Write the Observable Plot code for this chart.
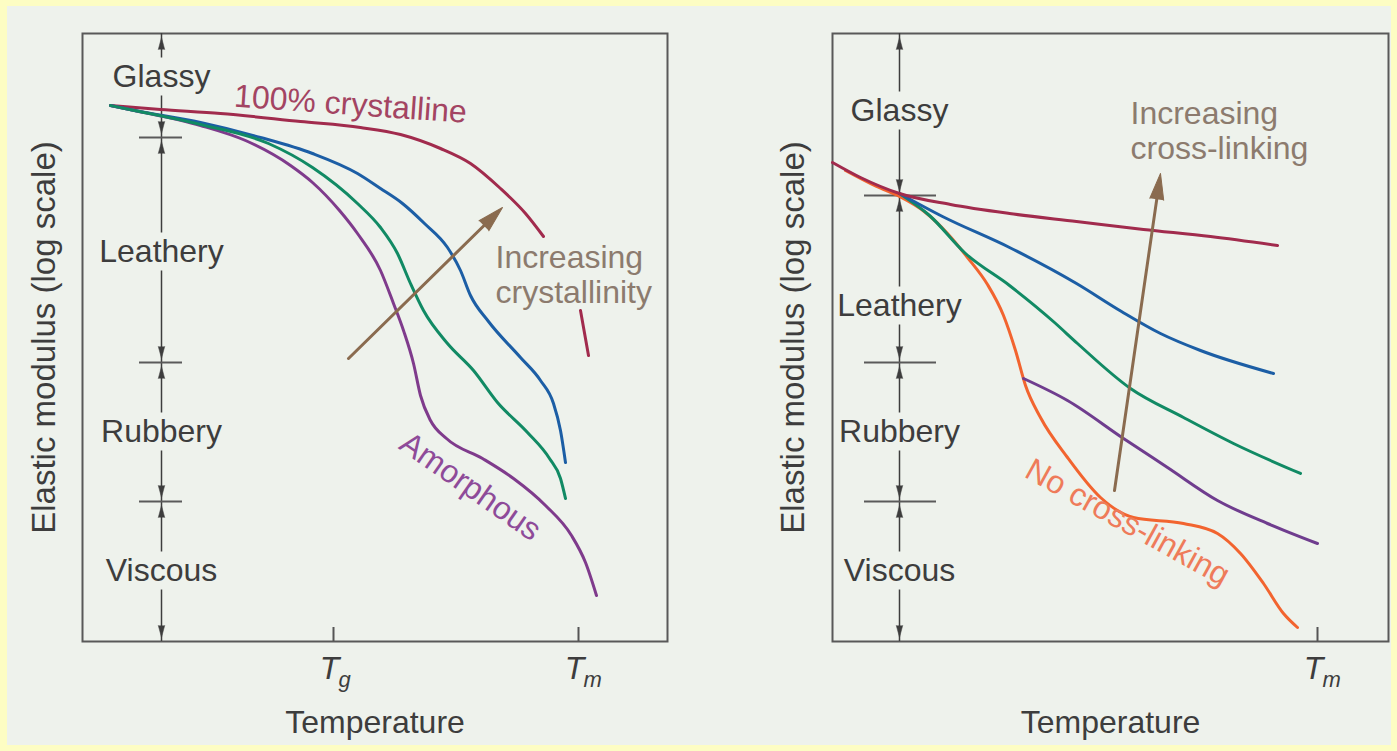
<!DOCTYPE html>
<html><head><meta charset="utf-8">
<script src="https://cdn.jsdelivr.net/npm/d3@7"></script>
<script src="https://cdn.jsdelivr.net/npm/@observablehq/plot@0.6"></script>
<style>
html,body{margin:0;padding:0;}
body{width:1397px;height:751px;overflow:hidden;}
#page{position:relative;width:1397px;height:751px;background:#fdfdc3;}
#inner{position:absolute;left:7px;top:6px;right:6px;bottom:6px;background:#eef2ec;}
#left,#right{position:absolute;top:0;}
#left{left:0;} #right{left:700px;}
</style></head><body>
<div id="page"><div id="inner"></div><div id="left"></div><div id="right"></div></div>
<script>
// ---------- data (temperature, log modulus in arbitrary units) ----------
const regionNames = ["Glassy", "Leathery", "Rubbery", "Viscous"];
// left panel
const leftLabelY = [56.45, 38.95, 20.95, 7.05];
const leftBounds = [60.8, 50.4, 27.9, 14.0, 0];
const leftTicks = [{name: "g", x: 25.1}, {name: "m", x: 49.6}];
const crystalline100 = [[2.8,53.6],[7.8,53.2],[13.8,52.8],[21.8,52.0],[27.8,51.4],[31.8,50.7],[35.8,49.3],[38.8,47.8],[41.8,45.3],[44.3,42.8],[46.1,40.5],[47.9,NaN],[49.8,33.1],[50.6,28.6]];
const crystalHigh = [[2.8,53.6],[5.2,53.1],[11.8,51.9],[17.8,50.4],[23.0,48.8],[27.5,46.8],[29.8,45.3],[32.0,43.8],[34.2,41.8],[36.5,39.4],[37.8,37.1],[38.8,34.6],[40.6,32.0],[43.8,28.4],[45.8,26.1],[47.1,23.8],[47.8,21.1],[48.3,17.9]];
const crystalMid = [[2.8,53.6],[5.2,53.1],[11.8,51.7],[18.6,49.8],[23.0,47.4],[27.5,43.8],[29.8,41.4],[31.5,38.8],[32.8,35.8],[34.1,33.1],[36.5,29.8],[39.1,27.1],[41.5,23.9],[44.5,20.9],[46.7,18.3],[47.8,16.3],[48.3,14.3]];
const amorphous = [[2.8,53.6],[5.2,53.1],[11.8,51.6],[16.3,50.1],[20.8,47.6],[23.0,45.9],[25.7,43.1],[27.5,40.8],[29.8,37.1],[31.1,33.8],[32.1,31.1],[33.1,27.8],[33.8,24.6],[34.8,22.1],[36.4,20.3],[40.0,18.3],[43.1,16.3],[46.3,13.6],[48.9,10.6],[50.3,7.9],[51.4,4.6]];
const crystArrow = [[26.6,28.3],[42.0,43.4]];
// right panel
const rightLabelY = [53.05, 33.55, 20.95, 7.05];
const rightBounds = [60.8, 44.6, 27.9, 14.0, 0];
const rightTicks = [{name: "m", x: 48.5}];
const heavyCross = [[0,47.9],[2.8,46.4],[6.7,44.8],[11.8,43.7],[17.7,42.8],[24.4,42.0],[31.1,41.2],[37.8,40.5],[44.5,39.6]];
const highCross = [[6.7,44.8],[11.0,42.5],[17.7,39.4],[24.4,35.8],[28.9,33.0],[32.8,30.8],[36.8,29.1],[44.1,26.8]];
const mediumCross = [[6.7,44.8],[9.7,42.6],[13.3,38.8],[17.7,35.6],[22.2,31.9],[24.5,29.8],[29.8,25.3],[35.1,22.4],[40.1,19.8],[46.8,16.8]];
const lightCross = [[19.1,26.3],[23.5,24.1],[29.1,20.3],[33.5,17.4],[38.5,14.1],[43.5,11.8],[48.5,9.8]];
const noCross = [[1.3,47.1],[4.4,45.5],[6.7,44.5],[9.3,42.9],[11.5,40.8],[13.5,38.4],[15.5,35.7],[17.1,32.6],[18.3,29.1],[19.3,25.6],[20.8,22.4],[23.5,18.4],[26.8,14.4],[30.1,12.4],[35.1,11.8],[38.5,10.8],[40.8,8.8],[43.1,5.8],[45.1,2.8],[46.5,1.4]];
const crossArrow = [[28.2,15.1],[32.8,46.8]];

// ---------- styling ----------
const FONT = "'Liberation Sans', Arial, Helvetica, sans-serif";
const INK = "#3d3d3d";
const C = {red: "#a12b4d", blue: "#1c5ea5", green: "#118a64", purple: "#7f3b8c", purple2: "#6f3d8e", orange: "#f2642f", brown: "#8a6b4f"};

function line(data, color) {
  return Plot.line(data, {x: d => d[0], y: d => d[1], stroke: color, strokeWidth: 3, curve: "monotone-x", strokeLinecap: "round"});
}
function bigArrow(data) {
  const [a, b] = data;
  const rot = Math.atan2(b[0] - a[0], b[1] - a[1]) * 180 / Math.PI;
  return [
    Plot.arrow([data], {x1: d => d[0][0], y1: d => d[0][1], x2: d => d[1][0], y2: d => d[1][1], stroke: C.brown, strokeWidth: 3, headLength: 0, insetEnd: 14}),
    Plot.vector([b], {x: d => d[0], y: d => d[1], rotate: rot, shape: "spike", anchor: "end", length: 26, r: 7, fill: C.brown, stroke: C.brown, strokeWidth: 1})
  ];
}
function regionMarks(labelY, bounds, ax, tx) {
  const GAP = 1.9, INSET = 0.4;
  const shafts = [], heads = [];
  regionNames.forEach((n, i) => {
    shafts.push({y1: labelY[i] + GAP, y2: bounds[i]});
    shafts.push({y1: labelY[i] - GAP, y2: bounds[i + 1]});
    heads.push({y: bounds[i] - INSET, dir: 0});
    heads.push({y: bounds[i + 1] + INSET, dir: 180});
  });
  return [
    Plot.ruleX(shafts, {x: ax, y1: "y1", y2: "y2", stroke: INK, strokeWidth: 1.5}),
    Plot.vector(heads, {x: ax, y: "y", rotate: "dir", shape: "spike", anchor: "end", length: 12, r: 3.2, fill: INK, stroke: INK, strokeWidth: 0.5}),
    Plot.ruleY(bounds.slice(1, -1), {y: d => d, x1: tx[0], x2: tx[1], stroke: "#5a5a5a", strokeWidth: 2}),
    Plot.text(regionNames, {x: ax, y: (d, i) => labelY[i], text: d => d, fontSize: 32, fill: INK})
  ];
}
function axisMarks(ticks, ydx) {
  return [
    Plot.ruleX(ticks, {x: "x", y1: 0, y2: 1.4, stroke: "#555", strokeWidth: 2}),
    Plot.text(ticks, {x: "x", text: () => "T", frameAnchor: "bottom", lineAnchor: "bottom", dy: 37, dx: -4, fontStyle: "italic", fontSize: 32, fill: INK}),
    Plot.text(ticks, {x: "x", text: "name", frameAnchor: "bottom", lineAnchor: "bottom", textAnchor: "start", dy: 45, dx: 5, fontStyle: "italic", fontSize: 22, fill: INK}),
    Plot.text(["Temperature"], {frameAnchor: "bottom", textAnchor: "middle", lineAnchor: "bottom", dy: 91, fontSize: 32, fill: INK}),
    Plot.text(["Elastic modulus (log scale)"], {frameAnchor: "left", textAnchor: "middle", lineAnchor: "middle", rotate: -90, dx: ydx, fontSize: 33, fill: INK})
  ];
}
const base = {height: 751, marginTop: 33, marginBottom: 110, y: {domain: [0, 60.8], axis: null},
  style: {background: "transparent", fontFamily: FONT, overflow: "visible"}};

const left = Plot.plot({...base, width: 700, marginLeft: 82, marginRight: 33,
  x: {domain: [0, 58.5], axis: null},
  marks: [
    Plot.frame({stroke: "#595959", strokeWidth: 2}),
    ...regionMarks(leftLabelY, leftBounds, 7.9, [5.7, 10.0]),
    ...axisMarks(leftTicks, -38),
    line(crystalline100, C.red),
    line(crystalHigh, C.blue),
    line(amorphous, C.purple),
    line(crystalMid, C.green),
    ...bigArrow(crystArrow),
    Plot.text(["100% crystalline"], {x: 26.8, y: 53.7, rotate: 4, fontSize: 32, fill: "#a34462"}),
    Plot.text(["Increasing\ncrystallinity"], {x: 41.3, y: 39.9, textAnchor: "start", lineAnchor: "top", lineHeight: 1.1, fontSize: 32, fill: "#8c7b6e"}),
    Plot.text(["Amorphous"], {x: 38.8, y: 15.5, rotate: 35, fontSize: 32, fill: "#8e4b99"})
  ]
});
document.getElementById("left").append(left);

const right = Plot.plot({...base, width: 697, marginLeft: 132, marginRight: 9,
  x: {domain: [0, 55.6], axis: null},
  marks: [
    Plot.frame({stroke: "#595959", strokeWidth: 2}),
    ...regionMarks(rightLabelY, rightBounds, 6.7, [3.2, 10.4]),
    ...axisMarks(rightTicks, -39),
    line(noCross, C.orange),
    line(lightCross, C.purple2),
    line(mediumCross, C.green),
    line(highCross, C.blue),
    line(heavyCross, C.red),
    ...bigArrow(crossArrow),
    Plot.text(["Increasing\ncross-linking"], {x: 29.8, y: 54.3, textAnchor: "start", lineAnchor: "top", lineHeight: 1.1, fontSize: 32, fill: "#8c7b6e"}),
    Plot.text(["No cross-linking"], {x: 29.5, y: 11.9, rotate: 29, fontSize: 32, fill: "#ee7b5a"})
  ]
});
document.getElementById("right").append(right);
</script>
</body></html>
